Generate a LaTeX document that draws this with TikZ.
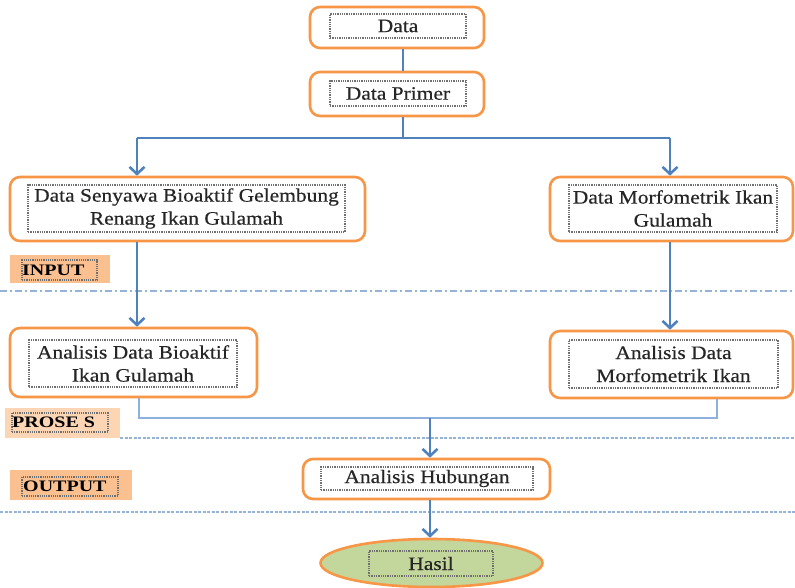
\documentclass[tikz,border=0pt]{standalone}
\usepackage{fontspec}
\setmainfont[FakeStretch=1.13,FakeBold=0.4]{Liberation Serif}
\newfontfamily\lblfont[FakeStretch=1.25]{Liberation Serif}
\usetikzlibrary{arrows.meta,shapes.geometric}
\definecolor{borange}{HTML}{F79646}
\definecolor{bblue}{HTML}{4F81BD}
\definecolor{lblue}{HTML}{8EB0DE}
\definecolor{dashblue}{HTML}{95B3D7}
\definecolor{dotgray}{HTML}{707070}
\definecolor{lblA}{HTML}{FAC090}
\definecolor{lblB}{HTML}{FCD5B5}
\definecolor{hasilgreen}{HTML}{C3D69B}
\newcommand{\mainsz}{\fontsize{19}{23}\selectfont}
\begin{document}
\begin{tikzpicture}[x=1pt,y=-1pt,
  outerbox/.style={draw=borange, line width=2.6pt, rounded corners=10pt, fill=white, inner sep=0pt},
  innerbox/.style={draw=dotgray, densely dotted, line width=1.3pt, inner sep=0pt, align=center, font=\mainsz, text=black!85},
  lblbg/.style={inner sep=0pt},
  lbldot/.style={draw=dotgray, densely dotted, line width=1.2pt, inner sep=0pt},
  lbltext/.style={font=\lblfont\bfseries\fontsize{16}{18}\selectfont, inner sep=0pt, anchor=west},
  conn/.style={draw=bblue, line width=2pt},
  connlight/.style={draw=lblue, line width=2pt},
  arr/.style={draw=bblue, line width=2.6pt, -{Straight Barb[length=7pt,width=15pt]}},
  sepline/.style={draw=dashblue, line width=1.5pt}
]
\useasboundingbox (0,0) rectangle (795,588);

% boxes
\node[outerbox, minimum width=174pt, minimum height=41pt] (dat) at (397,27.5) {};
\node[innerbox, minimum width=136pt, minimum height=24pt] (datT) at (398,26) {Data};

\node[outerbox, minimum width=174pt, minimum height=44pt] (dp) at (397,94) {};
\node[innerbox, minimum width=136pt, minimum height=25pt] (dpT) at (398,93.5) {Data Primer};

\node[outerbox, minimum width=355pt, minimum height=64pt] (lb) at (187.5,209) {};
\node[innerbox, minimum width=317pt, minimum height=47pt] (lbT) at (186.5,208.5) {Data Senyawa Bioaktif Gelembung\\Renang Ikan Gulamah};

\node[outerbox, minimum width=243pt, minimum height=64pt] (rb) at (671.5,209) {};
\node[innerbox, minimum width=208pt, minimum height=47pt] (rbT) at (673,208.5) {Data Morfometrik Ikan\\Gulamah};

\node[outerbox, minimum width=247pt, minimum height=69pt] (la) at (133.5,362.5) {};
\node[innerbox, minimum width=208pt, minimum height=47pt] (laT) at (133,363.5) {Analisis Data Bioaktif\\Ikan Gulamah};

\node[outerbox, minimum width=243pt, minimum height=67pt] (ra) at (671.5,364.5) {};
\node[innerbox, minimum width=209pt, minimum height=48pt] (raT) at (673.5,364) {Analisis Data\\Morfometrik Ikan};

\node[outerbox, minimum width=247pt, minimum height=40pt] (ah) at (426.5,479) {};
\node[innerbox, minimum width=212pt, minimum height=23pt] (ahT) at (427,478.5) {Analisis Hubungan};

\node[ellipse, draw=borange, line width=2.6pt, fill=hasilgreen, minimum width=222pt, minimum height=48pt, inner sep=0pt] (hs) at (431.5,563) {};
\node[innerbox, minimum width=124pt, minimum height=25pt] (hsT) at (431,563.5) {Hasil};

% labels
\node[lblbg, fill=lblA, minimum width=100pt, minimum height=28pt] (inBg) at (60,269) {};
\node[lbldot, minimum width=75pt, minimum height=20pt] (inDot) at (59.5,270) {};
\node[lbltext] (inTx) at (22,270) {INPUT};

\node[lblbg, fill=lblB, minimum width=115pt, minimum height=30pt] (prBg) at (62.5,423) {};
\node[lbldot, minimum width=96pt, minimum height=19pt] (prDot) at (60,422.5) {};
\node[lbltext] (prTx) at (12,422.5) {PROSE S};

\node[lblbg, fill=lblA, minimum width=122pt, minimum height=30pt] (ouBg) at (71,485) {};
\node[lbldot, minimum width=96pt, minimum height=19pt] (ouDot) at (70,486.5) {};
\node[lbltext] (ouTx) at (23,486.5) {OUTPUT};

% separator lines
\coordinate (s1a) at (0,291); \coordinate (s1b) at (795,291);
\draw[sepline, dash pattern=on 7pt off 3pt on 2pt off 3pt] (s1a) -- (s1b);
\coordinate (s2a) at (120,438); \coordinate (s2b) at (795,438);
\draw[sepline, dash pattern=on 3pt off 1.5pt] (s2a) -- (s2b);
\coordinate (s3a) at (0,512); \coordinate (s3b) at (795,512);
\draw[sepline, dash pattern=on 3pt off 1.5pt] (s3a) -- (s3b);

% connectors
\draw[conn] ([xshift=6pt]dat.south) -- ([xshift=6pt]dp.north);
\coordinate (br) at (403,138);
\draw[conn] ([xshift=6pt]dp.south) -- (br);
\draw[arr] ([xshift=-50.5pt]lb.north |- br) -- ([xshift=-50.5pt]lb.north);
\draw[arr] ([xshift=-1.5pt]rb.north |- br) -- ([xshift=-1.5pt]rb.north);
\draw[conn] ([xshift=-50.5pt]lb.north |- br) -- ([xshift=-1.5pt]rb.north |- br);

\draw[arr] ([xshift=-50.5pt]lb.south) -- ([xshift=-50.5pt]lb.south |- la.north);
\draw[arr] ([xshift=-1.5pt]rb.south) -- ([xshift=-1.5pt]rb.south |- ra.north);

\coordinate (jn) at (430,418);
\draw[connlight] ([xshift=5.5pt]la.south) |- (jn) -| ([xshift=45.5pt]ra.south);
\draw[arr] (jn) -- (jn |- ah.north);
\draw[arr] ([xshift=3.5pt]ah.south) -- ([xshift=3.5pt]ah.south |- hs.north);
\end{tikzpicture}
\end{document}
